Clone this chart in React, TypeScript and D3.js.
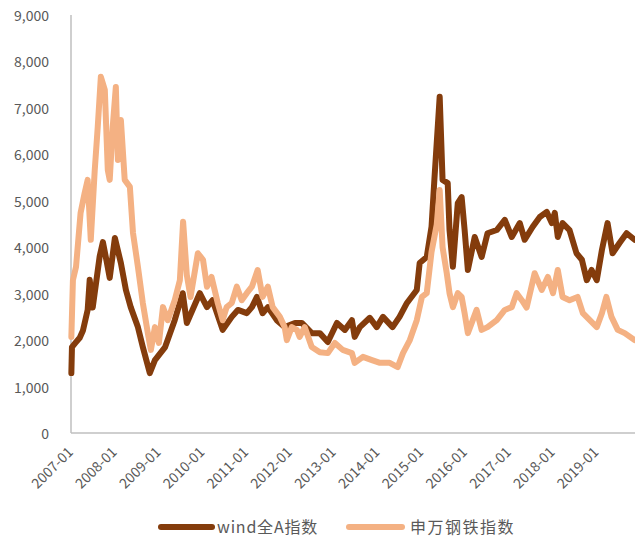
import React from "react";
import * as d3 from "d3";

// wind全A指数 (dark line)
const windDates = [
    "2007-01-04", "2007-01-09", "2007-02-10", "2007-03-15", "2007-04-10", "2007-05-20", "2007-06-06", "2007-07-01",
    "2007-08-28", "2007-09-24", "2007-10-25", "2007-11-20", "2008-01-02", "2008-02-21", "2008-04-03", "2008-05-13",
    "2008-07-12", "2008-08-22", "2008-10-19", "2008-12-01", "2009-02-24", "2009-05-15", "2009-07-21", "2009-08-24",
    "2009-12-10", "2010-02-08", "2010-03-27", "2010-06-19", "2010-09-03", "2010-10-24", "2011-01-06", "2011-02-18",
    "2011-04-01", "2011-05-18", "2011-07-01", "2011-09-13", "2011-11-18", "2012-02-12", "2012-04-09", "2012-07-01",
    "2012-09-06", "2012-11-12", "2013-01-27", "2013-04-03", "2013-06-01", "2013-06-24", "2013-08-06", "2013-10-28",
    "2013-12-25", "2014-02-15", "2014-05-06", "2014-07-03", "2014-09-03", "2014-11-24", "2014-12-18", "2015-02-15",
    "2015-03-27", "2015-04-21", "2015-06-03", "2015-06-27", "2015-08-09", "2015-08-24", "2015-09-21", "2015-11-01",
    "2015-12-03", "2015-12-28", "2016-01-24", "2016-03-21", "2016-05-18", "2016-07-06", "2016-09-21", "2016-11-27",
    "2017-01-24", "2017-04-01", "2017-05-12", "2017-07-18", "2017-09-15", "2017-11-12", "2017-12-24", "2018-01-18",
    "2018-02-12", "2018-03-24", "2018-05-21", "2018-07-18", "2018-09-01", "2018-10-12", "2018-11-21", "2019-01-03",
    "2019-02-15", "2019-04-03", "2019-05-15", "2019-07-12", "2019-09-09", "2019-11-15",
];
const windValues = [
    1290, 1850, 1950, 2050, 2200, 2650, 3300, 2700,
    3800, 4110, 3700, 3340, 4200, 3660, 3080, 2710,
    2280, 1850, 1290, 1570, 1850, 2430, 3010, 2370,
    3010, 2710, 2860, 2220, 2500, 2650, 2580, 2710,
    2930, 2580, 2710, 2430, 2280, 2370, 2370, 2150,
    2150, 1960, 2370, 2220, 2430, 2070, 2280, 2480,
    2280, 2500, 2280, 2500, 2800, 3080, 3660, 3790,
    4440, 5510, 7240, 5450, 5380, 4370, 3580, 4950,
    5080, 4370, 3510, 4220, 3790, 4300, 4370, 4590,
    4220, 4520, 4160, 4440, 4650, 4760, 4520, 4740,
    4220, 4520, 4370, 3870, 3730, 3290, 3510, 3290,
    3940, 4520, 3870, 4090, 4300, 4160,
];

// 申万钢铁指数 (light line)
const steelDates = [
    "2007-01-04", "2007-01-17", "2007-02-12", "2007-03-22", "2007-04-25", "2007-05-20", "2007-06-15", "2007-07-18",
    "2007-08-12", "2007-09-07", "2007-10-10", "2007-11-04", "2007-11-20", "2007-12-15", "2008-01-10", "2008-01-27",
    "2008-02-21", "2008-03-24", "2008-05-06", "2008-06-01", "2008-07-12", "2008-08-22", "2008-10-03", "2008-10-28",
    "2008-12-01", "2009-01-03", "2009-02-06", "2009-03-18", "2009-05-15", "2009-06-27", "2009-07-24", "2009-08-24",
    "2009-09-24", "2009-11-24", "2010-01-06", "2010-02-08", "2010-03-18", "2010-05-09", "2010-06-19", "2010-07-22",
    "2010-09-03", "2010-10-15", "2010-11-25", "2011-01-06", "2011-02-18", "2011-04-07", "2011-05-18", "2011-07-01",
    "2011-08-10", "2011-10-09", "2011-11-18", "2011-12-06", "2012-01-16", "2012-02-28", "2012-03-22", "2012-05-03",
    "2012-07-01", "2012-09-06", "2012-11-12", "2013-01-10", "2013-03-16", "2013-06-01", "2013-06-24", "2013-09-01",
    "2013-11-15", "2014-01-21", "2014-04-12", "2014-06-18", "2014-08-01", "2014-09-27", "2014-11-24", "2015-01-06",
    "2015-02-15", "2015-03-27", "2015-05-09", "2015-06-03", "2015-06-27", "2015-08-01", "2015-08-24", "2015-09-21",
    "2015-11-01", "2015-12-03", "2015-12-28", "2016-01-24", "2016-04-06", "2016-05-18", "2016-07-06", "2016-09-21",
    "2016-11-27", "2017-01-24", "2017-03-06", "2017-04-18", "2017-05-28", "2017-08-03", "2017-10-01", "2017-11-21",
    "2018-01-03", "2018-02-12", "2018-03-24", "2018-05-21", "2018-07-27", "2018-09-09", "2018-11-06", "2019-01-03",
    "2019-02-15", "2019-03-24", "2019-05-06", "2019-06-27", "2019-08-24", "2019-11-15",
];
const steelValues = [
    2070, 3290, 3580, 4740, 5170, 5450, 4160, 5660,
    6590, 7670, 7390, 5660, 5450, 6590, 7450, 5880,
    6740, 5450, 5300, 4310, 3580, 2800, 2150, 1790,
    2280, 1940, 2710, 2430, 2860, 3290, 4550, 3400,
    2930, 3870, 3730, 3150, 3360, 2800, 2430, 2710,
    2800, 3150, 2860, 3010, 3150, 3510, 2930, 3150,
    2710, 2500, 2280, 2000, 2280, 2220, 2070, 2280,
    1850, 1740, 1720, 1940, 1790, 1720, 1510, 1640,
    1570, 1510, 1510, 1420, 1720, 2000, 2430, 2930,
    3010, 3900, 4480, 5230, 4000, 3440, 3010, 2710,
    3010, 2930, 2580, 2150, 2650, 2220, 2280, 2430,
    2650, 2710, 3010, 2860, 2700, 3440, 3080, 3360,
    3010, 3510, 2930, 2860, 2930, 2580, 2430, 2280,
    2580, 2930, 2500, 2220, 2150, 2000,
];

const yTicks = [0, 1000, 2000, 3000, 4000, 5000, 6000, 7000, 8000, 9000];
const seriesNames = ["wind全A指数", "申万钢铁指数"];
const colors = ["#843C0C", "#F4B183"];

const width = 635;
const height = 537;
const margin = { left: 71, right: 0, top: 15, bottom: 104 };
const labelColor = "#595959";
const font = "'Noto Sans CJK SC', 'DejaVu Sans', sans-serif";

const parse = d3.timeParse("%Y-%m-%d");

const App = () => {
    const x = d3
        .scaleTime()
        .domain([parse("2007-01-01"), parse("2019-11-18")])
        .range([margin.left, width - margin.right]);
    const y = d3
        .scaleLinear()
        .domain([0, 9000])
        .range([height - margin.bottom, margin.top]);

    const line = d3
        .line<[Date, number]>()
        .x((d) => x(d[0]))
        .y((d) => y(d[1]));

    const wind = windDates.map((d, i) => [parse(d), windValues[i]] as [Date, number]);
    const steel = steelDates.map((d, i) => [parse(d), steelValues[i]] as [Date, number]);

    const fmt = d3.format(",");
    const yearTicks = d3.timeYear.range(parse("2007-01-01"), parse("2019-12-31"));
    const tickFmt = d3.timeFormat("%Y-%m");
    const y0 = y(0);

    return (
        <svg width={width} height={height}
            style={{ position: "absolute", left: 0, top: 0, background: "#fff" }}
            fontFamily={font}>
            {/* axes */}
            <line x1={margin.left} x2={margin.left} y1={y(9000)} y2={y0} stroke="#BFBFBF" strokeWidth={1.5} />
            <line x1={margin.left} x2={width} y1={y0} y2={y0} stroke="#BFBFBF" strokeWidth={1.5} />

            {yTicks.map((t) => (
                <text key={t} x={49} y={y(t)} textAnchor="end" dominantBaseline="central"
                    fontSize={14} fill={labelColor}>
                    {fmt(t)}
                </text>
            ))}

            {yearTicks.map((d) => (
                <text key={+d}
                    transform={`translate(${x(d) + 3},${y0 + 20}) rotate(-45)`}
                    textAnchor="end" fontSize={14} fill={labelColor}>
                    {tickFmt(d)}
                </text>
            ))}

            <path d={line(wind)} fill="none" stroke={colors[0]} strokeWidth={6}
                strokeLinejoin="round" strokeLinecap="round" />
            <path d={line(steel)} fill="none" stroke={colors[1]} strokeWidth={6}
                strokeLinejoin="round" strokeLinecap="round" />

            {/* legend */}
            <g>
                <line x1={161} x2={212} y1={527} y2={527} stroke={colors[0]} strokeWidth={6} strokeLinecap="round" />
                <text x={217} y={526} dominantBaseline="central" fontSize={16} letterSpacing={0.8} fill={labelColor}>{seriesNames[0]}</text>
                <line x1={349} x2={402} y1={527} y2={527} stroke={colors[1]} strokeWidth={6} strokeLinecap="round" />
                <text x={410} y={526} dominantBaseline="central" fontSize={16} letterSpacing={1.5} fill={labelColor}>{seriesNames[1]}</text>
            </g>
        </svg>
    );
};

export default App;
